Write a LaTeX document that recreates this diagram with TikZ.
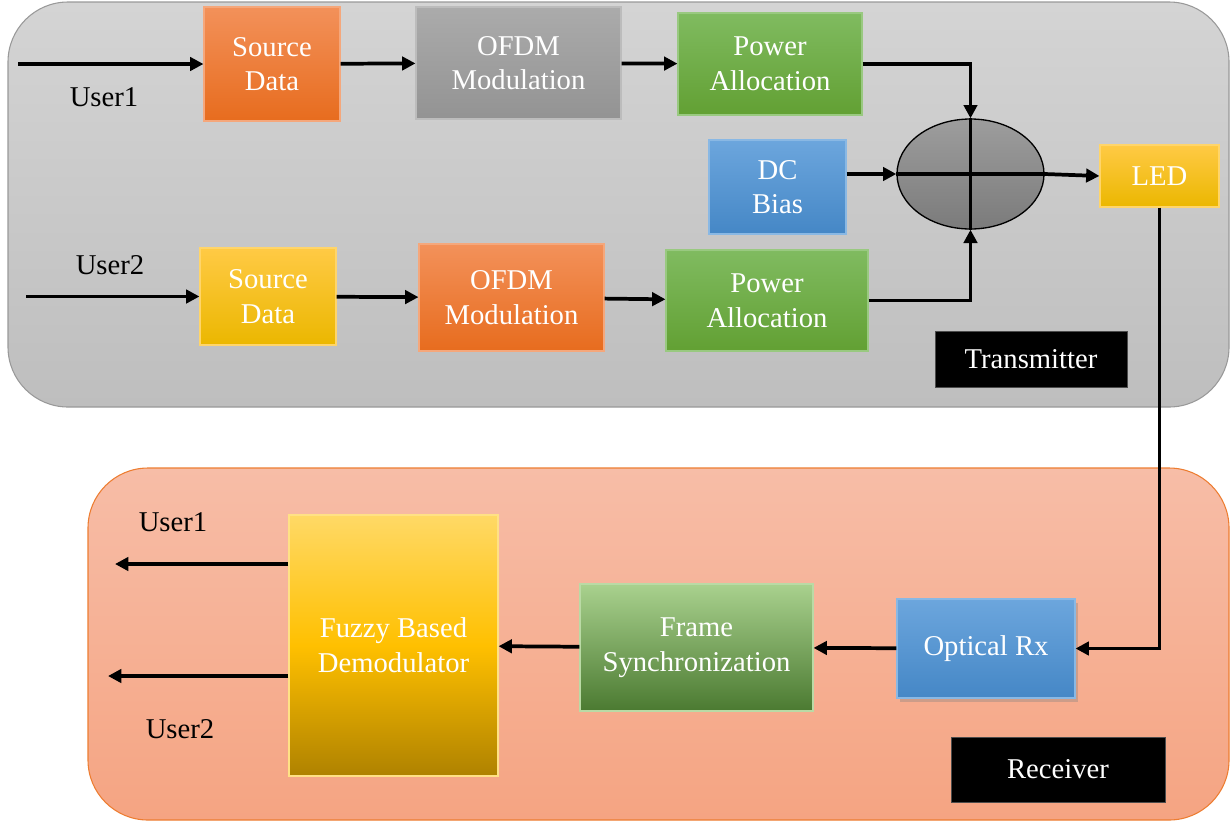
\documentclass[tikz,border=0pt]{standalone}
\usepackage{fontspec}
\setmainfont{Liberation Serif}
\usetikzlibrary{arrows.meta,shapes.geometric,shadows}

\definecolor{txtop}{HTML}{D4D4D4}
\definecolor{txbot}{HTML}{BEBEBE}
\definecolor{rxtop}{HTML}{F7BDA7}
\definecolor{rxbot}{HTML}{F5A482}
\definecolor{rxline}{HTML}{ED7D31}
\definecolor{orgtop}{HTML}{F3915A}
\definecolor{orgbot}{HTML}{E76C1E}
\definecolor{grytop}{HTML}{ABABAB}
\definecolor{grybot}{HTML}{939393}
\definecolor{grntop}{HTML}{80BB60}
\definecolor{grnbot}{HTML}{62A033}
\definecolor{blutop}{HTML}{6CA6DD}
\definecolor{blubot}{HTML}{4587C6}
\definecolor{yeltop}{HTML}{FFCA45}
\definecolor{yelbot}{HTML}{EBB700}
\definecolor{fuztop}{HTML}{FFD966}
\definecolor{fuzmid}{HTML}{FFC000}
\definecolor{fuzbot}{HTML}{AF8200}
\definecolor{frmtop}{HTML}{A9D18E}
\definecolor{frmbot}{HTML}{4B7A31}
\definecolor{sumtop}{HTML}{9D9D9D}
\definecolor{sumbot}{HTML}{7B7B7B}

\begin{document}
\begin{tikzpicture}[x=0.75pt,y=-0.75pt,
  font=\fontsize{21.5}{26}\selectfont,
  blk/.style={rectangle,align=center,text=white,inner sep=0pt,line width=0.8pt},
  orgblk/.style={blk,draw=orgtop!80!white,top color=orgtop,bottom color=orgbot},
  gryblk/.style={blk,draw=grytop!80!white,top color=grytop,bottom color=grybot},
  grnblk/.style={blk,draw=grntop!80!white,top color=grntop,bottom color=grnbot},
  blublk/.style={blk,draw=blutop!80!white,top color=blutop,bottom color=blubot},
  yelblk/.style={blk,draw=yeltop!80!white,top color=yeltop,bottom color=yelbot},
  tag/.style={rectangle,fill=black,draw=gray!60!black,text=white,inner sep=0pt},
  arr/.style={line width=2.8pt,-{Triangle[length=10pt,width=10pt]}},
  usr/.style={text=black,inner sep=0pt}]
  \useasboundingbox (0,0) rectangle (1230,822);

  % Panels
  \draw[draw=gray!80,line width=0.8pt,top color=txtop,bottom color=txbot,rounded corners=45pt]
    (8,2) rectangle (1229,407);
  \draw[draw=rxline,line width=0.8pt,top color=rxtop,bottom color=rxbot,rounded corners=45pt]
    (88,468) rectangle (1229,820);

  % Transmitter
  \node[orgblk,minimum width=102pt,minimum height=85.5pt] (sd1) at (272,64) {Source\\Data};
  \node[gryblk,minimum width=153.75pt,minimum height=84pt] (ofdm1) at (518.5,63) {OFDM\\Modulation};
  \node[grnblk,minimum width=138pt,minimum height=76.5pt] (pa1) at (770,64) {Power\\Allocation};
  \node[blublk,minimum width=102.75pt,minimum height=70.5pt] (dc) at (777.5,187) {DC\\Bias};
  \node[ellipse,draw=black,line width=1pt,top color=sumtop,bottom color=sumbot,
    minimum width=110.25pt,minimum height=82.5pt,inner sep=0pt] (sum) at (970.5,174) {};
  \node[yelblk,minimum width=89.25pt,minimum height=46.5pt] (led) at (1159.5,176) {LED};
  \node[yelblk,minimum width=102pt,minimum height=72.75pt] (sd2) at (268,296.5) {Source\\Data};
  \node[orgblk,minimum width=138.75pt,minimum height=80.25pt] (ofdm2) at (511.5,297.5) {OFDM\\Modulation};
  \node[grnblk,minimum width=151.5pt,minimum height=75.75pt] (pa2) at (767,300.5) {Power\\Allocation};
  \node[tag,minimum width=144pt,minimum height=42pt] (txtag) at (1031,359) {Transmitter};

  \node[usr] (u1) at (104,97) {User1};
  \node[usr] (u2) at (110,265) {User2};
  \coordinate (u1in) at (18,64);
  \coordinate (u2in) at (26,296.5);

  \draw[line width=2.8pt] (sum.north) -- (sum.south);
  \draw[line width=2.8pt] (sum.west) -- (sum.east);

  \draw[arr] (u1in) -- (sd1);
  \draw[arr] (sd1) -- (ofdm1);
  \draw[arr] (ofdm1) -- (pa1);
  \draw[arr] (pa1.east) -| (sum.north);
  \draw[arr] (dc.east |- sum.west) -- (sum.west);
  \draw[arr] (u2in) -- (sd2);
  \draw[arr] (sd2) -- (ofdm2);
  \draw[arr] (ofdm2) -- (pa2);
  \draw[arr] (pa2.east) -| (sum.south);
  \draw[arr] (sum.east) -- (led.west);

  % Receiver
  \node[blk,draw=fuztop!80!white,top color=fuztop,bottom color=fuzbot,middle color=fuzmid,
    minimum width=156.75pt,minimum height=195.75pt] (fuzzy) at (393.5,645.5) {Fuzzy Based\\Demodulator};
  \node[blk,draw=frmtop!80!white,top color=frmtop,bottom color=frmbot,
    minimum width=174.75pt,minimum height=95.25pt] (frame) at (696.5,647.5) {Frame\\Synchronization};
  \node[blublk,minimum width=133.5pt,minimum height=74.25pt,
    drop shadow={shadow xshift=2pt,shadow yshift=-3pt,opacity=0.35}] (optrx) at (986,648.5) {Optical Rx};
  \node[tag,minimum width=160.5pt,minimum height=48.75pt] (rxtag) at (1058,769.5) {Receiver};

  \node[usr] (v1) at (173,522) {User1};
  \node[usr] (v2) at (180,729) {User2};
  \coordinate (o1) at (115,564);
  \coordinate (o2) at (108,676);

  \draw[arr] (led.south) |- (optrx.east);
  \draw[arr] (optrx) -- (frame);
  \draw[arr] (frame) -- (fuzzy);
  \draw[arr] (fuzzy.west |- o1) -- (o1);
  \draw[arr] (fuzzy.west |- o2) -- (o2);
\end{tikzpicture}
\end{document}
